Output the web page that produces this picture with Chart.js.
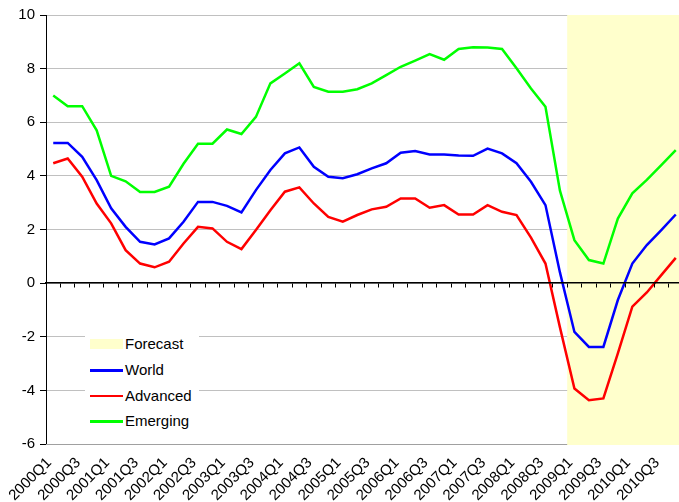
<!DOCTYPE html>
<html>
<head>
<meta charset="utf-8">
<title>GDP growth</title>
<script src="https://cdn.jsdelivr.net/npm/chart.js@4.4.0/dist/chart.umd.min.js"></script>
<style>
  html, body { margin: 0; padding: 0; background: #fff; overflow: hidden; }
  #wrap { position: relative; width: 679px; height: 502px; overflow: hidden; }
  #chart { position: absolute; left: 0; top: 0; }
  #legend {
    position: absolute; left: 85px; top: 333px; width: 114px; height: 98px;
    background: #fff; font: 15px "Liberation Sans", Arial, sans-serif; color: #000;
  }
  .item { position: absolute; left: 0; height: 18px; width: 114px; }
  .swatch { position: absolute; left: 5px; width: 33px; }
  .text { position: absolute; left: 40px; top: 0; line-height: 18px; white-space: nowrap; }
</style>
</head>
<body>
<div id="wrap">
  <canvas id="chart" width="683" height="502"></canvas>
  <div id="legend"></div>
</div>
<script>
// Quarterly categories
const quarters = [
  '2000Q1','2000Q2','2000Q3','2000Q4','2001Q1','2001Q2','2001Q3','2001Q4',
  '2002Q1','2002Q2','2002Q3','2002Q4','2003Q1','2003Q2','2003Q3','2003Q4',
  '2004Q1','2004Q2','2004Q3','2004Q4','2005Q1','2005Q2','2005Q3','2005Q4',
  '2006Q1','2006Q2','2006Q3','2006Q4','2007Q1','2007Q2','2007Q3','2007Q4',
  '2008Q1','2008Q2','2008Q3','2008Q4','2009Q1','2009Q2','2009Q3','2009Q4',
  '2010Q1','2010Q2','2010Q3','2010Q4'
];

// First quarter of the forecast period
const forecastFrom = '2009Q1';

// Growth, % year on year
const world = [
  5.23, 5.23, 4.71, 3.84, 2.79, 2.10, 1.54, 1.44, 1.67, 2.29, 3.03, 3.03,
  2.88, 2.64, 3.47, 4.22, 4.84, 5.06, 4.34, 3.97, 3.91, 4.06, 4.28, 4.47,
  4.86, 4.93, 4.80, 4.80, 4.76, 4.75, 5.02, 4.84, 4.47, 3.78, 2.91, 0.40,
  -1.82, -2.38, -2.38, -0.63, 0.73, 1.42, 1.98, 2.56
];
const advanced = [
  4.47, 4.65, 3.97, 2.97, 2.23, 1.23, 0.73, 0.59, 0.80, 1.48, 2.10, 2.04,
  1.54, 1.27, 1.98, 2.72, 3.41, 3.57, 2.97, 2.47, 2.29, 2.54, 2.75, 2.85,
  3.16, 3.16, 2.81, 2.91, 2.56, 2.56, 2.91, 2.66, 2.54, 1.70, 0.73, -1.65,
  -3.93, -4.37, -4.30, -2.62, -0.88, -0.35, 0.30, 0.94
];
const emerging = [
  7.00, 6.60, 6.60, 5.70, 4.00, 3.80, 3.40, 3.40, 3.60, 4.45, 5.20, 5.20,
  5.73, 5.56, 6.20, 7.45, 7.82, 8.20, 7.32, 7.14, 7.14, 7.23, 7.45, 7.76,
  8.07, 8.30, 8.54, 8.33, 8.73, 8.80, 8.79, 8.73, 8.01, 7.26, 6.58, 3.45,
  1.60, 0.86, 0.73, 2.41, 3.35, 3.85, 4.40, 4.96
];

const FONT = '"Liberation Sans", Arial, sans-serif';
const FORECAST_COLOR = '#ffffcc';

// Pale band behind the forecast quarters, painted over the gridlines
const forecastShade = {
  id: 'forecastShade',
  beforeDatasetsDraw(chart) {
    const { ctx, chartArea, scales } = chart;
    const x = scales.x;
    const i = quarters.indexOf(forecastFrom);
    const half = (x.getPixelForValue(1) - x.getPixelForValue(0)) / 2;
    const left = x.getPixelForValue(i) - half;
    ctx.save();
    ctx.fillStyle = FORECAST_COLOR;
    ctx.fillRect(left, chartArea.top, chartArea.right - left, chartArea.bottom - chartArea.top + 1);
    ctx.restore();
  }
};

const series = [
  { label: 'World', data: world, color: '#0000ff' },
  { label: 'Advanced', data: advanced, color: '#ff0000' },
  { label: 'Emerging', data: emerging, color: '#00ff00' }
];

const chart = new Chart(document.getElementById('chart'), {
  type: 'line',
  data: {
    labels: quarters,
    datasets: series.map(s => ({
      label: s.label,
      data: s.data,
      borderColor: s.color,
      backgroundColor: s.color,
      borderWidth: 2.5,
      pointRadius: 0,
      tension: 0,
      fill: false,
      xAxisID: 'x',
      yAxisID: 'y'
    }))
  },
  options: {
    responsive: false,
    animation: false,
    devicePixelRatio: 1,
    layout: { padding: { top: 15, left: 0, right: 0, bottom: 0 } },
    plugins: { legend: { display: false }, tooltip: { enabled: false } },
    scales: {
      y: {
        min: -6, max: 10,
        ticks: { stepSize: 2, color: '#000', font: { family: FONT, size: 15 }, padding: 5 },
        grid: { color: '#c0c0c0', lineWidth: 1, tickColor: '#000', tickLength: 6 },
        border: { color: '#000', width: 1 },
        afterFit(s) { s.width = 46; }
      },
      x: {
        type: 'category',
        offset: true,
        ticks: {
          autoSkip: false, maxRotation: 45, minRotation: 45, padding: 10, labelOffset: -4,
          color: '#000', font: { family: FONT, size: 15 },
          callback(value, index) { return index % 2 === 0 ? quarters[index] : ''; }
        },
        grid: { display: false, drawTicks: false },
        border: { display: true, color: '#a0a0a0', width: 1 },
        afterFit(s) { s.height = 58; s.paddingLeft = 0; s.paddingRight = 0; }
      },
      x0: {
        type: 'category',
        position: { y: 0 },
        offset: true,
        ticks: { display: false },
        grid: { offset: true, drawOnChartArea: false, drawTicks: true, tickLength: 4, tickColor: '#000', z: 1 },
        border: { color: '#000', width: 1.5, z: 1 }
      }
    }
  },
  plugins: [forecastShade]
});

// Legend: forecast band plus one line sample per series
const legend = document.getElementById('legend');
const entries = [{ label: 'Forecast', band: true }].concat(
  chart.data.datasets.map(d => ({ label: d.label, color: d.borderColor }))
);
entries.forEach((e, i) => {
  const item = document.createElement('div');
  item.className = 'item';
  item.style.top = (2.3 + i * 25.7) + 'px';
  const sw = document.createElement('div');
  sw.className = 'swatch';
  if (e.band) {
    sw.style.top = '4px'; sw.style.height = '10px'; sw.style.background = FORECAST_COLOR;
  } else {
    sw.style.top = '8px'; sw.style.height = '2.5px'; sw.style.background = e.color;
  }
  const tx = document.createElement('div');
  tx.className = 'text';
  tx.textContent = e.label;
  item.appendChild(sw);
  item.appendChild(tx);
  legend.appendChild(item);
});
</script>
</body>
</html>
